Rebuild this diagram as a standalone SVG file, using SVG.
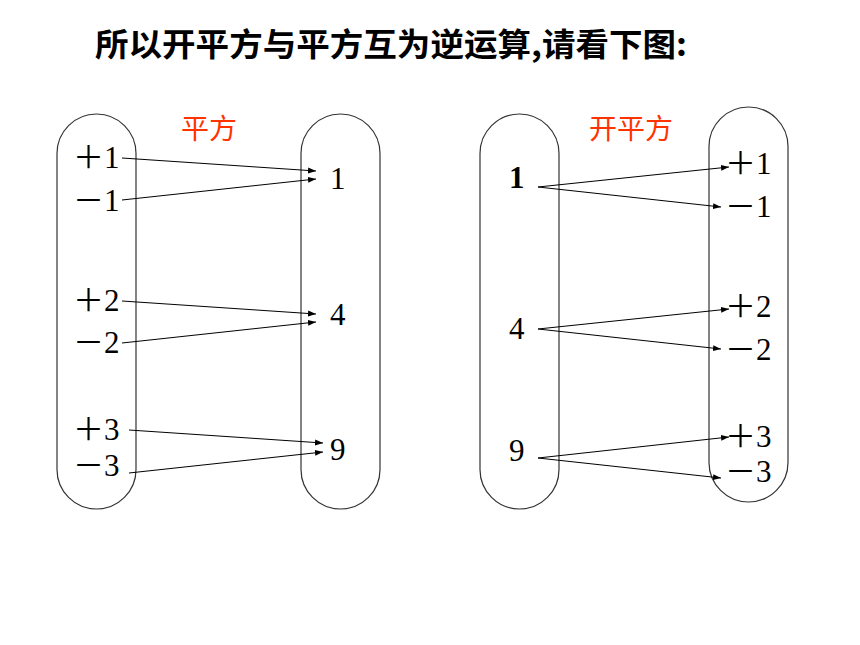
<svg xmlns="http://www.w3.org/2000/svg" width="860" height="645" viewBox="0 0 860 645">
<style>
.cap{fill:none;stroke:#333;stroke-width:1.2}
.num{font-family:"Liberation Serif","Noto Sans CJK SC",serif;font-size:31px;fill:#000}
.lbl{font-family:"Noto Sans CJK SC",sans-serif;font-size:28px;fill:#FF3300}
.title{font-family:"Noto Sans CJK SC",sans-serif;font-size:32px;font-weight:bold;fill:#000}
.arr{stroke:#000;stroke-width:1;fill:none;marker-end:url(#ah)}
</style>
<defs>
<marker id="ah" markerWidth="9" markerHeight="7" refX="8" refY="3" orient="auto" markerUnits="userSpaceOnUse">
<path d="M0,0 L8,3 L0,6 z" fill="#000"/>
</marker>
</defs>
<rect width="860" height="645" fill="#fff"/>
<text class="title" x="95" y="56" textLength="592" lengthAdjust="spacingAndGlyphs">所以开平方与平方互为逆运算,请看下图:</text>

<g id="left-domain">
<rect class="cap" x="57" y="114" width="79" height="395" rx="39.5"/>
<text class="num" x="73" y="168">＋1</text>
<text class="num" x="73" y="211">－1</text>
<text class="num" x="73" y="311">＋2</text>
<text class="num" x="73" y="353">－2</text>
<text class="num" x="73" y="440">＋3</text>
<text class="num" x="73" y="476">－3</text>
</g>
<g id="left-range">
<rect class="cap" x="301" y="114" width="79" height="395" rx="39.5"/>
<text class="num" x="330" y="189">1</text>
<text class="num" x="330" y="325">4</text>
<text class="num" x="330" y="460">9</text>
</g>
<g id="label-square"><text class="lbl" x="181" y="139">平方</text></g>

<g id="right-domain">
<rect class="cap" x="480" y="114" width="79" height="395" rx="39.5"/>
<text class="num" x="509" y="188" font-weight="bold">1</text>
<text class="num" x="509" y="339">4</text>
<text class="num" x="509" y="461">9</text>
</g>
<g id="right-range">
<rect class="cap" x="709" y="107" width="79" height="395" rx="39.5"/>
<text class="num" x="725" y="174">＋1</text>
<text class="num" x="725" y="217">－1</text>
<text class="num" x="725" y="317">＋2</text>
<text class="num" x="725" y="360">－2</text>
<text class="num" x="725" y="447">＋3</text>
<text class="num" x="725" y="482">－3</text>
</g>
<g id="label-sqrt"><text class="lbl" x="589" y="139">开平方</text></g>

<g id="connectors">
<line class="arr" x1="122" y1="158" x2="316" y2="171"/>
<line class="arr" x1="122" y1="200" x2="316" y2="179"/>
<line class="arr" x1="122" y1="301" x2="316" y2="314"/>
<line class="arr" x1="122" y1="343" x2="316" y2="322"/>
<line class="arr" x1="129" y1="430" x2="323" y2="443"/>
<line class="arr" x1="129" y1="473" x2="323" y2="452"/>
<line class="arr" x1="538" y1="187" x2="729" y2="167"/>
<line class="arr" x1="538" y1="187" x2="721" y2="207"/>
<line class="arr" x1="538" y1="329" x2="729" y2="309"/>
<line class="arr" x1="538" y1="329" x2="721" y2="349"/>
<line class="arr" x1="538" y1="458" x2="729" y2="437"/>
<line class="arr" x1="538" y1="458" x2="721" y2="478"/>
</g>
</svg>
